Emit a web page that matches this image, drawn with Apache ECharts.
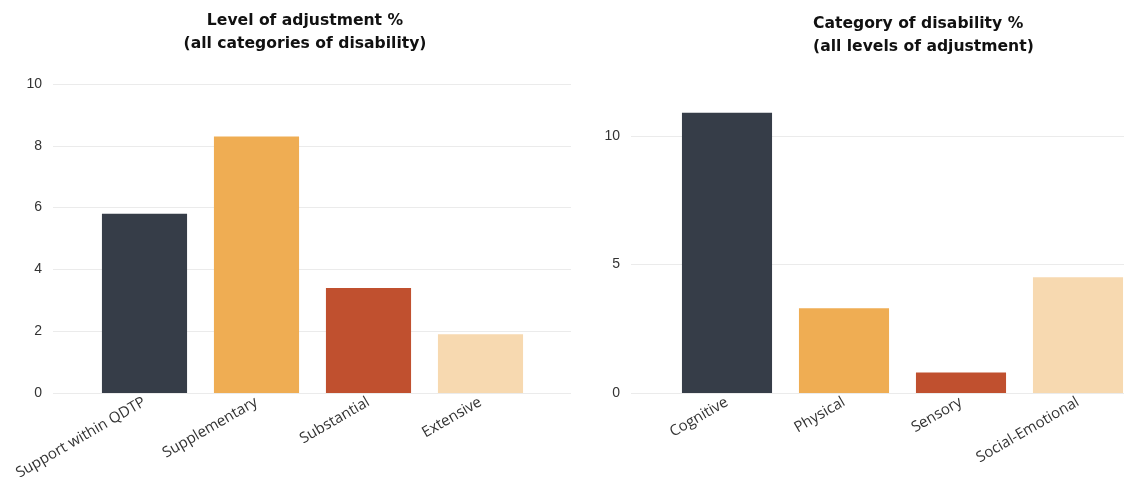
<!DOCTYPE html>
<html><head><meta charset="utf-8">
<script src="https://cdn.jsdelivr.net/npm/echarts@6/dist/echarts.min.js"></script>
<style>html,body{margin:0;padding:0;background:#fff}#c{width:1124px;height:477px}</style>
</head><body><div id="c"></div>
<script>
const leftTitle = 'Level of adjustment %\n(all categories of disability)';
const leftCategories = ['Support within QDTP', 'Supplementary', 'Substantial', 'Extensive'];
const leftValues = [5.8, 8.3, 3.4, 1.9];
const rightTitle = 'Category of disability %\n(all levels of adjustment)';
const rightCategories = ['Cognitive', 'Physical', 'Sensory', 'Social-Emotional'];
const rightValues = [10.9, 3.3, 0.8, 4.5];
const barColors = ['#363d48', '#efad53', '#c0502f', '#f7d9b0'];

const chart = echarts.init(document.getElementById('c'));
const labelFont = { fontFamily: 'Open Sans', fontSize: 15, color: '#333' };
const yLabelFont = { fontFamily: 'Liberation Sans', fontSize: 14, color: '#333' };
const gridLine = { show: true, lineStyle: { color: '#ebebeb', width: 1 } };
const titleFont = { fontFamily: 'DejaVu Sans', fontWeight: 'bold', fontSize: 15.6, color: '#111', lineHeight: 22.5 };

function barData(vals) {
  return vals.map((v, i) => ({ value: v, itemStyle: { color: barColors[i] } }));
}

chart.setOption({
  animation: false,
  title: [
    { text: leftTitle, left: 300, top: 5, textAlign: 'center', textStyle: titleFont },
    { text: rightTitle, left: 808, top: 8, textAlign: 'left',
      textStyle: Object.assign({ align: 'left' }, titleFont) }
  ],
  grid: [
    { left: 53, top: 84, width: 518, height: 309, outerBoundsMode: 'none' },
    { left: 88.5, top: 84, width: 448, height: 309, outerBoundsMode: 'none' },
    { left: 631, top: 100, right: 0, height: 293, outerBoundsMode: 'none' },
    { left: 668.5, top: 100, width: 468, height: 293, outerBoundsMode: 'none' }
  ],
  xAxis: [
    { gridIndex: 0, type: 'value', show: false, min: 0, max: 1 },
    { gridIndex: 1, type: 'category', data: leftCategories,
      axisLine: { show: false }, axisTick: { show: false },
      axisLabel: Object.assign({ rotate: 30, margin: 8, interval: 0 }, labelFont) },
    { gridIndex: 2, type: 'value', show: false, min: 0, max: 1 },
    { gridIndex: 3, type: 'category', data: rightCategories,
      axisLine: { show: false }, axisTick: { show: false },
      axisLabel: Object.assign({ rotate: 30, margin: 8, interval: 0 }, labelFont) }
  ],
  yAxis: [
    { gridIndex: 0, type: 'value', min: 0, max: 10, interval: 2,
      axisLine: { show: false }, axisTick: { show: false },
      axisLabel: Object.assign({ margin: 11 }, yLabelFont), splitLine: gridLine },
    { gridIndex: 1, type: 'value', min: 0, max: 10, interval: 2, show: false, splitLine: { show: false } },
    { gridIndex: 2, type: 'value', min: 0, max: 11.4, interval: 5,
      axisLine: { show: false }, axisTick: { show: false },
      axisLabel: Object.assign({ margin: 11, showMaxLabel: false }, yLabelFont),
      splitLine: Object.assign({ showMaxLine: false }, gridLine) },
    { gridIndex: 3, type: 'value', min: 0, max: 11.4, interval: 5, show: false, splitLine: { show: false } }
  ],
  series: [
    { type: 'bar', xAxisIndex: 1, yAxisIndex: 1, data: barData(leftValues), barCategoryGap: '24%' },
    { type: 'bar', xAxisIndex: 3, yAxisIndex: 3, data: barData(rightValues), barCategoryGap: '23%' }
  ]
});
</script></body></html>
